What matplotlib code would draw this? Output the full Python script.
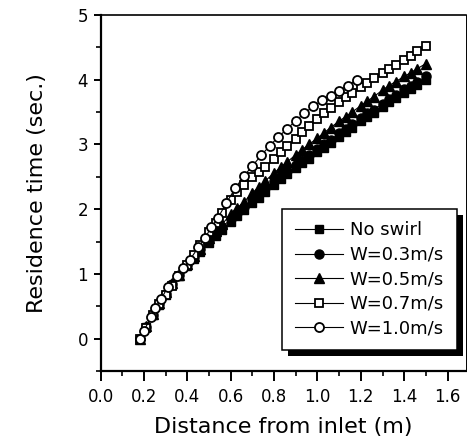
import matplotlib
matplotlib.use("Agg")
import matplotlib.pyplot as plt
from matplotlib.patches import Rectangle
from matplotlib.ticker import MultipleLocator

# ---- data ----
x_grid = [0.18, 0.21, 0.24, 0.27, 0.30, 0.33, 0.36, 0.40, 0.43, 0.46, 0.50, 0.53, 0.56, 0.60,
          0.63, 0.66, 0.70, 0.73, 0.76, 0.80, 0.83, 0.86, 0.90, 0.93, 0.96, 1.00, 1.03, 1.06,
          1.10, 1.13, 1.16, 1.20, 1.23, 1.26, 1.30, 1.33, 1.36, 1.40, 1.43, 1.46, 1.50]
y_noswirl = [0.00, 0.18, 0.36, 0.52, 0.68, 0.83, 0.96, 1.12, 1.23, 1.34, 1.48, 1.58, 1.68, 1.80,
             1.89, 1.98, 2.10, 2.18, 2.27, 2.38, 2.46, 2.54, 2.64, 2.71, 2.78, 2.88, 2.95, 3.02,
             3.12, 3.19, 3.26, 3.36, 3.43, 3.49, 3.58, 3.65, 3.71, 3.80, 3.86, 3.92, 4.00]
y_w03 = [0.00, 0.18, 0.37, 0.53, 0.69, 0.84, 0.98, 1.14, 1.26, 1.38, 1.52, 1.62, 1.72, 1.85,
         1.94, 2.03, 2.15, 2.23, 2.32, 2.43, 2.51, 2.59, 2.69, 2.76, 2.84, 2.93, 3.00, 3.07,
         3.17, 3.24, 3.31, 3.41, 3.48, 3.54, 3.63, 3.70, 3.76, 3.85, 3.91, 3.97, 4.05]
y_w05 = [0.00, 0.19, 0.38, 0.55, 0.72, 0.86, 0.99, 1.15, 1.27, 1.39, 1.55, 1.66, 1.77, 1.92,
         2.02, 2.11, 2.25, 2.35, 2.44, 2.56, 2.65, 2.73, 2.84, 2.92, 3.00, 3.10, 3.18, 3.26,
         3.36, 3.43, 3.50, 3.60, 3.67, 3.74, 3.84, 3.91, 3.97, 4.05, 4.11, 4.17, 4.25]
y_w07 = [0.00, 0.17, 0.37, 0.53, 0.68, 0.82, 0.96, 1.14, 1.29, 1.45, 1.64, 1.78, 1.94, 2.14,
         2.27, 2.38, 2.49, 2.57, 2.65, 2.78, 2.89, 2.98, 3.09, 3.19, 3.28, 3.40, 3.49, 3.57,
         3.66, 3.73, 3.80, 3.88, 3.95, 4.02, 4.10, 4.16, 4.22, 4.30, 4.36, 4.44, 4.52]
x_w10 = [0.18, 0.20, 0.23, 0.25, 0.28, 0.31, 0.35, 0.38, 0.41, 0.45, 0.48, 0.51, 0.54, 0.58,
         0.62, 0.66, 0.70, 0.74, 0.78, 0.82, 0.86, 0.90, 0.94, 0.98, 1.02, 1.06, 1.10, 1.14, 1.18]
y_w10 = [0.00, 0.12, 0.33, 0.47, 0.62, 0.80, 0.97, 1.09, 1.21, 1.41, 1.55, 1.72, 1.86, 2.10,
         2.32, 2.51, 2.67, 2.83, 2.98, 3.12, 3.24, 3.37, 3.48, 3.59, 3.68, 3.75, 3.83, 3.91, 4.00]

labels = ["No swirl", "W=0.3m/s", "W=0.5m/s", "W=0.7m/s", "W=1.0m/s"]
x_ticks = [0.0, 0.2, 0.4, 0.6, 0.8, 1.0, 1.2, 1.4, 1.6]
y_ticks = [0, 1, 2, 3, 4, 5]

plt.rcParams['font.family'] = ['DejaVu Sans']

fig = plt.figure(figsize=(4.67, 4.36), dpi=100)
ax = fig.add_axes([100.7 / 467, 65 / 436, (466 - 100.7) / 467, 356 / 436])

series = [
    (x_grid, y_noswirl, dict(marker='s', mfc='black', mec='black', ms=6.0)),
    (x_grid, y_w03, dict(marker='o', mfc='black', mec='black', ms=6.5)),
    (x_grid, y_w05, dict(marker='^', mfc='black', mec='black', ms=7.0)),
    (x_grid, y_w07, dict(marker='s', mfc='white', mec='black', ms=6.0, mew=1.3)),
    (x_w10, y_w10, dict(marker='o', mfc='white', mec='black', ms=6.5, mew=1.3)),
]
for (xs, ys, st), lab in zip(series, labels):
    ax.plot(xs, ys, color='black', lw=0.8, label=lab, **st)

ax.set_xlim(0, 1.685)
ax.set_ylim(-0.5, 5)
ax.set_xticks(x_ticks)
ax.set_xticklabels([f"{v:.1f}" for v in x_ticks])
ax.set_yticks(y_ticks)
ax.xaxis.set_minor_locator(MultipleLocator(0.1))
ax.yaxis.set_minor_locator(MultipleLocator(0.5))
ax.tick_params(axis='both', which='major', labelsize=12, width=1.4, color='black')
ax.tick_params(axis='x', which='major', direction='out', length=7, pad=5)
ax.tick_params(axis='y', which='major', direction='out', length=5, pad=4)
ax.tick_params(axis='both', which='minor', direction='out', length=3.5, width=1.2)
for s in ['left', 'bottom']:
    ax.spines[s].set_linewidth(1.6)
ax.spines['top'].set_linewidth(1.2)
ax.spines['right'].set_linewidth(0.7)

ax.set_xlabel("Distance from inlet (m)", fontsize=16, labelpad=8)
ax.set_ylabel("Residence time (sec.)", fontsize=16, labelpad=22)

leg = ax.legend(loc='lower right', bbox_to_anchor=(0.9745, 0.059), fontsize=13,
                frameon=True, fancybox=False, shadow=False, handlelength=2.7,
                handletextpad=0.35, labelspacing=0.36, borderpad=0.7, borderaxespad=0.0,
                framealpha=1.0, facecolor='white', edgecolor='black')
leg.get_frame().set_linewidth(1.1)
leg.set_zorder(6)

fig.canvas.draw()
bb = leg.get_window_extent().transformed(fig.transFigure.inverted())
dx, dy = 6 / 467, 6 / 436
ax.add_patch(Rectangle((bb.x0 + dx, bb.y0 - dy), bb.width, bb.height,
                       transform=fig.transFigure, facecolor='black', edgecolor='none',
                       zorder=5.5, clip_on=False))

fig.savefig("out.png", dpi=100)
